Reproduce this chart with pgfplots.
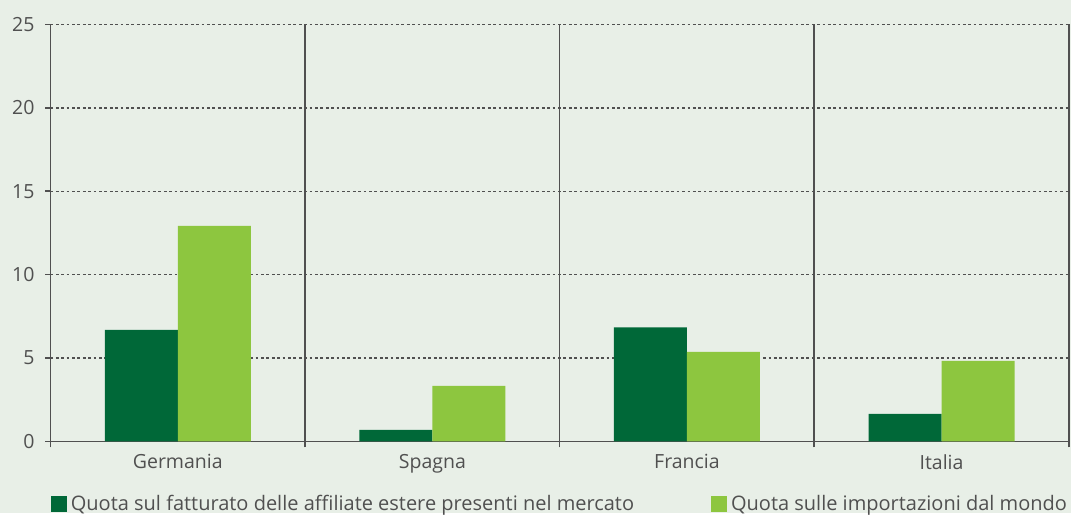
\documentclass[border=0pt]{standalone}
\usepackage{pgfplots}
\pgfplotsset{compat=1.18}
\usepackage{fontspec}
\setmainfont{Open Sans}
\definecolor{bg}{HTML}{E8EFE7}
\definecolor{dk}{HTML}{006838}
\definecolor{lt}{HTML}{8DC63F}
\definecolor{ax}{HTML}{505050}
\definecolor{tx}{HTML}{505050}
\begin{document}
\begin{tikzpicture}
\fill[bg] (-25.25pt,-35.75pt) rectangle (510.25pt,220.75pt);
\begin{axis}[
  at={(0,0)}, anchor=south west,
  scale only axis, width=509.25pt, height=208.5pt,
  ybar=0pt, bar width=36.5pt,
  xmin=-0.5, xmax=3.5, ymin=0, ymax=25,
  xtick={0,1,2,3},
  xticklabels={Germania,Spagna,Francia,Italia},
  minor xtick={-0.5,0.5,1.5,2.5,3.5},
  ytick={0,5,10,15,20,25},
  major x tick style={draw=none},
  minor tick length=3pt,
  major tick length=2.5pt,
  tick align=outside,
  xtick pos=bottom, ytick pos=left,
  minor x grid style={ax, line width=0.8pt},
  xminorgrids=true,
  ymajorgrids=true,
  major y grid style={ax, line width=0.7pt, dash pattern=on 1.35pt off 1.35pt},
  axis x line*=bottom, axis y line*=left,
  axis line style={ax, line width=0.9pt, -},
  every tick/.style={ax, line width=0.8pt},
  tick label style={font=\fontsize{9.75}{11}\selectfont, text=tx},
  /pgf/number format/assume math mode=true,
  xticklabel style={yshift=-0.5pt},
  yticklabel style={xshift=-2pt},
  legend style={draw=none, fill=none, at={(0,0)}, anchor=west, xshift=0pt, yshift=-31.5pt,
    inner sep=0pt, legend columns=2, font=\fontsize{10}{12}\selectfont, text=tx,
    /tikz/column 2/.style={column sep=36.5pt}},
  legend cell align=left,
]
\addplot[fill=dk, draw=none, legend image code/.code={\fill[dk] (0pt,-4pt) rectangle (8pt,4pt);}] coordinates {(0,6.69) (1,0.69) (2,6.84) (3,1.65)};
\addplot[fill=lt, draw=none, legend image code/.code={\fill[lt] (0pt,-4pt) rectangle (8pt,4pt);}] coordinates {(0,12.93) (1,3.33) (2,5.37) (3,4.83)};
\legend{Quota sul fatturato delle affiliate estere presenti nel mercato, Quota sulle importazioni dal mondo}
\end{axis}
\end{tikzpicture}
\end{document}
